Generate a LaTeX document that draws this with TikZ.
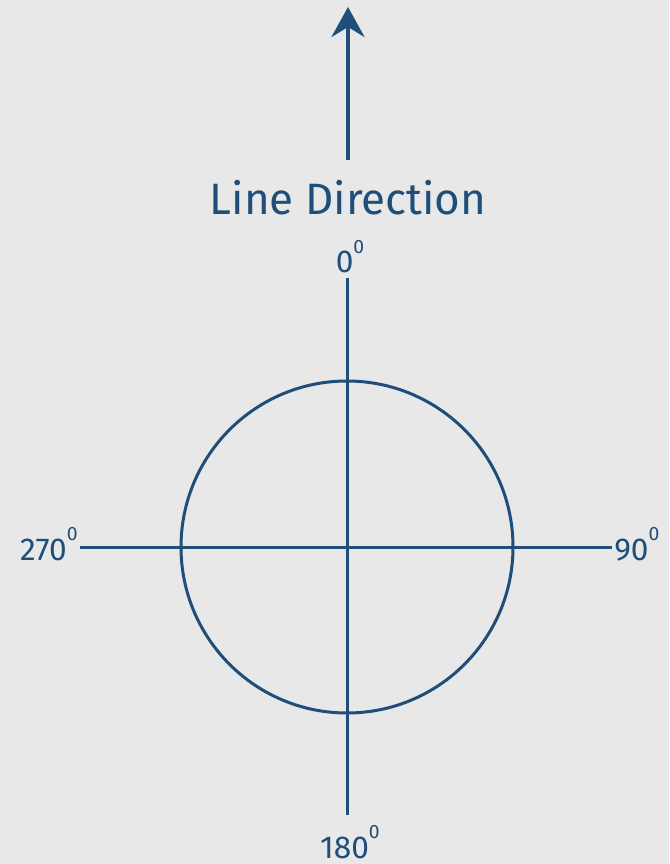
\documentclass[tikz,border=0pt]{standalone}
\usepackage{fontspec}
\setmainfont{Fira Sans}
\usetikzlibrary{arrows.meta, positioning}
\definecolor{ink}{RGB}{31,78,121}
\definecolor{paper}{RGB}{232,232,232}
\newcommand{\degsup}{\raisebox{0.62em}{\fontsize{11}{12}\selectfont 0}}

\begin{document}
\begin{tikzpicture}[x=0.02cm, y=-0.02cm, text=ink,
    axis/.style={draw=ink, line width=3pt*0.57},
    deglabel/.style={font=\fontsize{18}{21}\selectfont, inner sep=0pt}]
  % fond
  \fill[paper] (0,0) rectangle (669,864);
  \useasboundingbox (0,0) rectangle (669,864);

  % fleche de direction
  \coordinate (dirbase) at (348,160);
  \coordinate (dirtip) at (348,7);
  \draw[draw=ink, line width=4pt*0.57, -{Stealth[length=0.6cm, width=0.66cm, inset=0.2cm]}] (dirbase) -- (dirtip);
  \node[font=\fontsize{25}{30}\selectfont, inner sep=0pt, anchor=base] (dirlabel) at (348,215) {Line Direction};

  % axes et cercle
  \coordinate (centre) at (347,547);
  \coordinate (top) at (347,278);
  \coordinate (bottom) at (347,815);
  \coordinate (left) at (80,547);
  \coordinate (right) at (612,547);
  \draw[axis] (top) -- (bottom);
  \draw[axis] (left) -- (right);
  \draw[axis] (centre) circle[radius=166];

  % labels des angles
  \node[deglabel, anchor=base] (north) at (350,273) {0\degsup};
  \node[deglabel, anchor=base east] (west) at (78,560) {270\degsup};
  \node[deglabel, anchor=base west] (east) at (614,560) {90\degsup};
  \node[deglabel, anchor=base] (south) at (350,858) {180\degsup};
\end{tikzpicture}
\end{document}
